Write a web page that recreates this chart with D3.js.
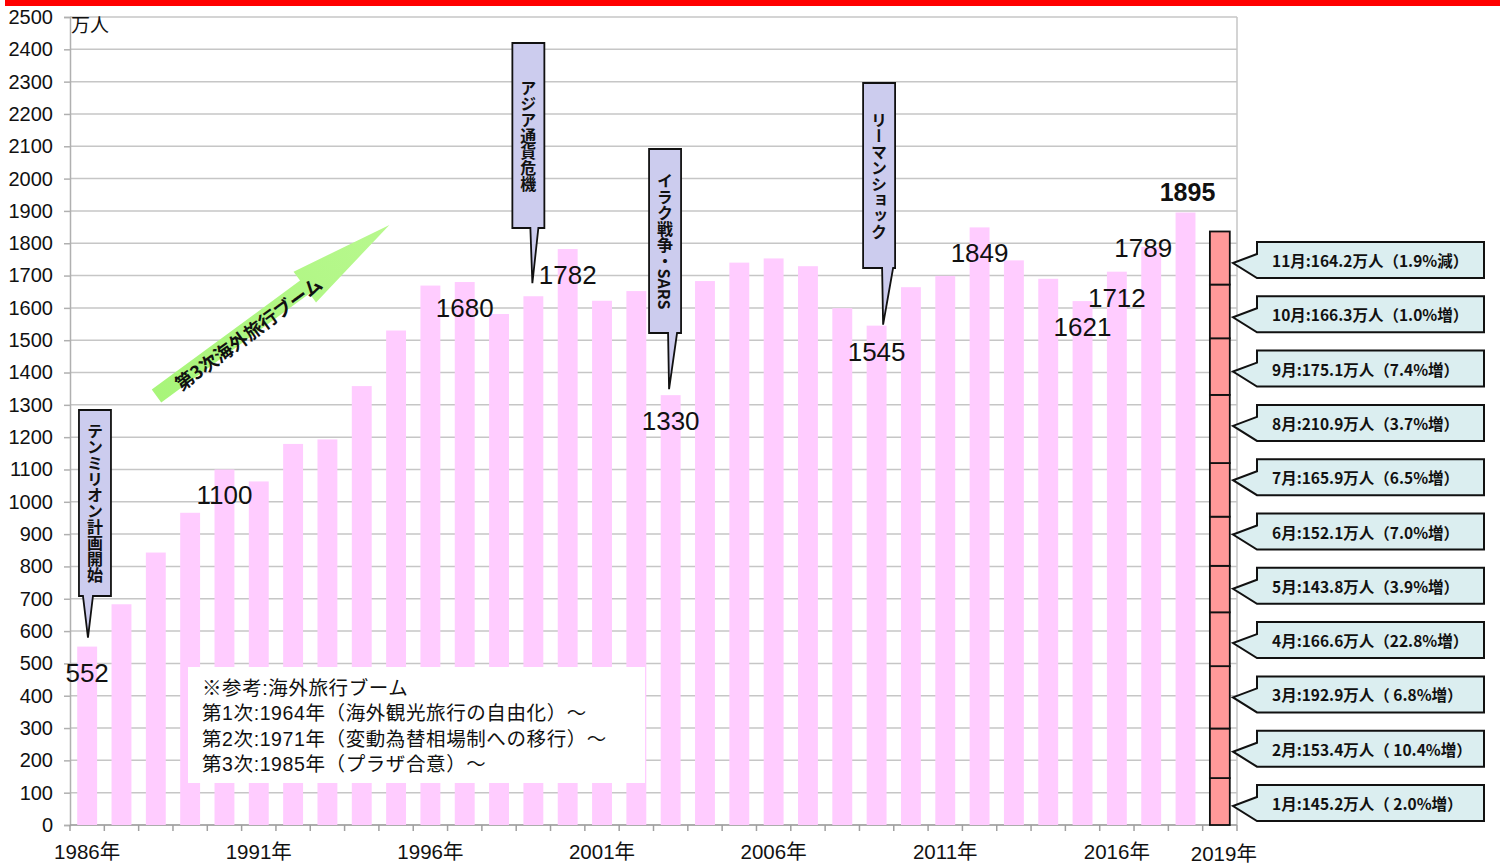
<!DOCTYPE html>
<html><head><meta charset="utf-8">
<script src="https://cdn.jsdelivr.net/npm/d3@7"></script>
<style>body{margin:0;background:#fff} svg{display:block}</style>
</head><body><svg id="c" width="1500" height="864"></svg>
<script>
// ---------- data ----------
const years = ["1986","1987","1988","1989","1990","1991","1992","1993","1994","1995","1996","1997","1998","1999","2000","2001","2002","2003","2004","2005","2006","2007","2008","2009","2010","2011","2012","2013","2014","2015","2016","2017","2018","2019"];
const annualValues = [552,683,843,966,1100,1063,1179,1193,1358,1530,1669,1680,1581,1636,1782,1622,1652,1330,1683,1740,1753,1729,1599,1545,1664,1699,1849,1747,1690,1621,1712,1789,1895];
const months2019 = ["1月","2月","3月","4月","5月","6月","7月","8月","9月","10月","11月"];
const monthValues2019 = [145.2,153.4,192.9,166.6,143.8,152.1,165.9,210.9,175.1,166.3,164.2];
const monthChanges2019 = [" 2.0%増"," 10.4%増"," 6.8%増","22.8%増","3.9%増","7.0%増","6.5%増","3.7%増","7.4%増","1.0%増","1.9%減"];
const yTicks = [0,100,200,300,400,500,600,700,800,900,1000,1100,1200,1300,1400,1500,1600,1700,1800,1900,2000,2100,2200,2300,2400,2500];
const xTickLabels = {"1986":"1986年","1991":"1991年","1996":"1996年","2001":"2001年","2006":"2006年","2011":"2011年","2016":"2016年","2019":"2019年"};
const labeledYears = ["1986","1990","1997","2000","2003","2009","2012","2015","2016","2017","2018"];
const events = [
  {year:"1986", text:"テンミリオン計画開始"},
  {year:"1999", text:"アジア通貨危機"},
  {year:"2003", text:"イラク戦争・SARS"},
  {year:"2009", text:"リーマンショック"}
];
const noteLines = ["※参考:海外旅行ブーム","第1次:1964年（海外観光旅行の自由化）～","第2次:1971年（変動為替相場制への移行）～","第3次:1985年（プラザ合意）～"];
const boomText = "第3次海外旅行ブーム";
const unitText = "万人";

// ---------- layout / style (annotation placement) ----------
const W=1500,H=864, L=70, R=1237, T=17, B=825;
const labelOffsets = {"1986":[0,35],"1990":[0,35],"1997":[0,35],"2000":[0,35],"2003":[0,35],"2009":[0,35],"2012":[0,35],"2015":[0,35],"2016":[0,35],"2017":[-8,10],"2018":[2,-12]};
const eventLayout = {
  "1986":{tipDx:0.8, dxBox:-9, top:410, bottom:596, gap:9, base:[-5,5]},
  "1999":{tipDx:-1, dxBox:-20, top:43, bottom:228, gap:13, base:[-2,6]},
  "2003":{tipDx:-1.6, dxBox:-20, top:149, bottom:333, gap:6, base:[-1,8]},
  "2009":{tipDx:6.5, dxBox:-20, top:83, bottom:268, gap:1, base:[-1,10]}
};

const svg = d3.select("#c");
const sans = "'Liberation Sans', Arial, 'Noto Sans CJK JP', sans-serif";
const jp = "'Noto Sans CJK JP', 'Noto Sans', sans-serif";

const x = d3.scaleBand().domain(years).range([L,R]).paddingInner(0.42).paddingOuter(0.21);
const y = d3.scaleLinear().domain([0,2500]).range([B,T]);
const bw = x.bandwidth(), step = x.step();
const cx = yr => x(yr) + bw/2;

// top red band
svg.append("rect").attr("x",5).attr("y",0).attr("width",W-5).attr("height",6).attr("fill","#ff0000");

// grid
const grid = svg.append("g");
grid.selectAll("line").data(yTicks).join("line")
  .attr("x1",L).attr("x2",R).attr("y1",d=>y(d)).attr("y2",d=>y(d))
  .attr("stroke","#c6c6c6").attr("stroke-width",1.5);
grid.append("line").attr("x1",R).attr("x2",R).attr("y1",T).attr("y2",B).attr("stroke","#c6c6c6").attr("stroke-width",1.5);

// y axis
const yAxis = svg.append("g").attr("transform",`translate(${L},0)`)
  .call(d3.axisLeft(y).tickValues(yTicks).tickSize(6).tickPadding(11).tickFormat(d3.format("d")));
yAxis.select(".domain").attr("stroke","#b0b0b0").attr("stroke-width",1.5);
yAxis.selectAll(".tick line").attr("stroke","#b0b0b0").attr("stroke-width",1.5);
yAxis.selectAll(".tick text").attr("font-family",sans).attr("font-size",20).attr("fill","#111");

// x axis ticks at band boundaries
const xg = svg.append("g");
xg.append("line").attr("x1",L).attr("x2",R).attr("y1",B).attr("y2",B).attr("stroke","#a0a0a0").attr("stroke-width",1.5);
const bounds = years.map(yr => x(yr) - (step-bw)/2).concat([R]);
xg.selectAll("line.t").data(bounds).join("line").attr("class","t")
  .attr("x1",d=>d).attr("x2",d=>d).attr("y1",B).attr("y2",B+6).attr("stroke","#a0a0a0").attr("stroke-width",1.5);
xg.selectAll("text").data(Object.keys(xTickLabels)).join("text")
  .attr("x",d=>cx(d) + (d==="2019"?4:0)).attr("y",d=>d==="2019"?861:859)
  .attr("text-anchor","middle").attr("font-family",sans).attr("font-size",20.5).attr("fill","#111")
  .text(d=>xTickLabels[d]);

// bars
const annual = years.slice(0, annualValues.length).map((yr,i)=>({year:yr, value:annualValues[i]}));
svg.append("g").selectAll("rect").data(annual).join("rect")
  .attr("x",d=>x(d.year)).attr("width",bw)
  .attr("y",d=>y(d.value)).attr("height",d=>y(0)-y(d.value))
  .attr("fill","#ffccff");

// 2019 stacked months
let acc = 0;
const segs = monthValues2019.map((v,i)=>{const s={m:months2019[i], y0:acc, y1:acc+v, v}; acc+=v; return s;});
svg.append("g").selectAll("rect").data(segs).join("rect")
  .attr("x",x("2019")).attr("width",bw)
  .attr("y",d=>y(d.y1)).attr("height",d=>y(d.y0)-y(d.y1))
  .attr("fill","#ff9999").attr("stroke","#111").attr("stroke-width",1.8);

// note box
svg.append("rect").attr("x",188).attr("y",667).attr("width",457).attr("height",116).attr("fill","#fff");
svg.append("g").selectAll("text").data(noteLines).join("text")
  .attr("x",202).attr("y",(d,i)=>695+i*25.3)
  .attr("font-family",sans).attr("font-size",19.5).attr("fill","#111")
  .attr("letter-spacing",0.6).text(d=>d);

// unit
svg.append("text").attr("x",71).attr("y",32).attr("font-family",jp).attr("font-size",19).attr("fill","#111").text(unitText);

// green arrow
const AL=289, sh=8, hh=19, hl=105;
const arrowPts = [[0,-sh],[AL-hl,-sh],[AL-hl,-hh],[AL,0],[AL-hl,hh],[AL-hl,sh],[0,sh]];
const grad = svg.append("defs").append("linearGradient").attr("id","ag").attr("x1","0").attr("x2","1");
grad.append("stop").attr("offset","0").attr("stop-color","#a8f57a");
grad.append("stop").attr("offset","1").attr("stop-color","#b8f88e");
svg.append("polygon").attr("points",arrowPts.map(p=>p.join(",")).join(" "))
  .attr("transform","translate(156.5,396) rotate(-36.3)").attr("fill","url(#ag)");
svg.append("text").attr("transform","translate(248,333) rotate(-36.3)")
  .attr("text-anchor","middle").attr("dominant-baseline","central")
  .attr("font-family",jp).attr("font-size",18.5).attr("font-weight","bold").attr("fill","#111").text(boomText);

// event callouts
const ev = svg.append("g");
events.forEach(e=>{
  const lay = eventLayout[e.year];
  const val = annualValues[years.indexOf(e.year)];
  const tx = cx(e.year) + lay.tipDx, ty = y(val) - lay.gap;
  const bl = tx + lay.dxBox, br = bl + 32;
  const p = `M${bl},${lay.top} H${br} V${lay.bottom} H${tx+lay.base[1]} L${tx},${ty} L${tx+lay.base[0]},${lay.bottom} H${bl} Z`;
  ev.append("path").attr("d",p).attr("fill","#ccccee").attr("stroke","#111").attr("stroke-width",1.8).attr("stroke-linejoin","miter");
  ev.append("text").attr("x",(bl+br)/2).attr("y",(lay.top+lay.bottom)/2)
    .attr("text-anchor","middle").style("writing-mode","vertical-rl")
    .attr("font-family",jp).attr("font-size",16).attr("font-weight","bold").attr("fill","#111").text(e.text);
});

// month callouts
const mc = svg.append("g");
const boxX0 = 1257, boxX1 = 1484, boxH = 36;
const topC = 260, botC = 803;
segs.forEach((s,i)=>{
  const cy = botC - i*(botC-topC)/(segs.length-1);
  const top = cy - boxH/2, bot = cy + boxH/2;
  const p = `M${boxX0},${top} H${boxX1} V${bot} H${boxX0} L${boxX0-24},${cy+3} L${boxX0},${cy-6} Z`;
  mc.append("path").attr("d",p).attr("fill","#dbeef0").attr("stroke","#111").attr("stroke-width",2);
  mc.append("text").attr("x",boxX0+15).attr("y",cy).attr("dominant-baseline","central")
    .attr("font-family",jp).attr("font-size",15.5).attr("font-weight","bold").attr("fill","#111")
    .text(`${s.m}:${s.v.toFixed(1)}万人（${monthChanges2019[i]}）`);
});

// value labels
svg.append("g").selectAll("text").data(labeledYears).join("text")
  .attr("x",d=>cx(d)+labelOffsets[d][0])
  .attr("y",d=>y(annualValues[years.indexOf(d)])+labelOffsets[d][1])
  .attr("text-anchor","middle").attr("font-family",sans)
  .attr("font-size",d=>d==="2018"?25:26).attr("font-weight",d=>d==="2018"?"bold":"normal")
  .attr("fill","#111").text(d=>annualValues[years.indexOf(d)]);
</script></body></html>
